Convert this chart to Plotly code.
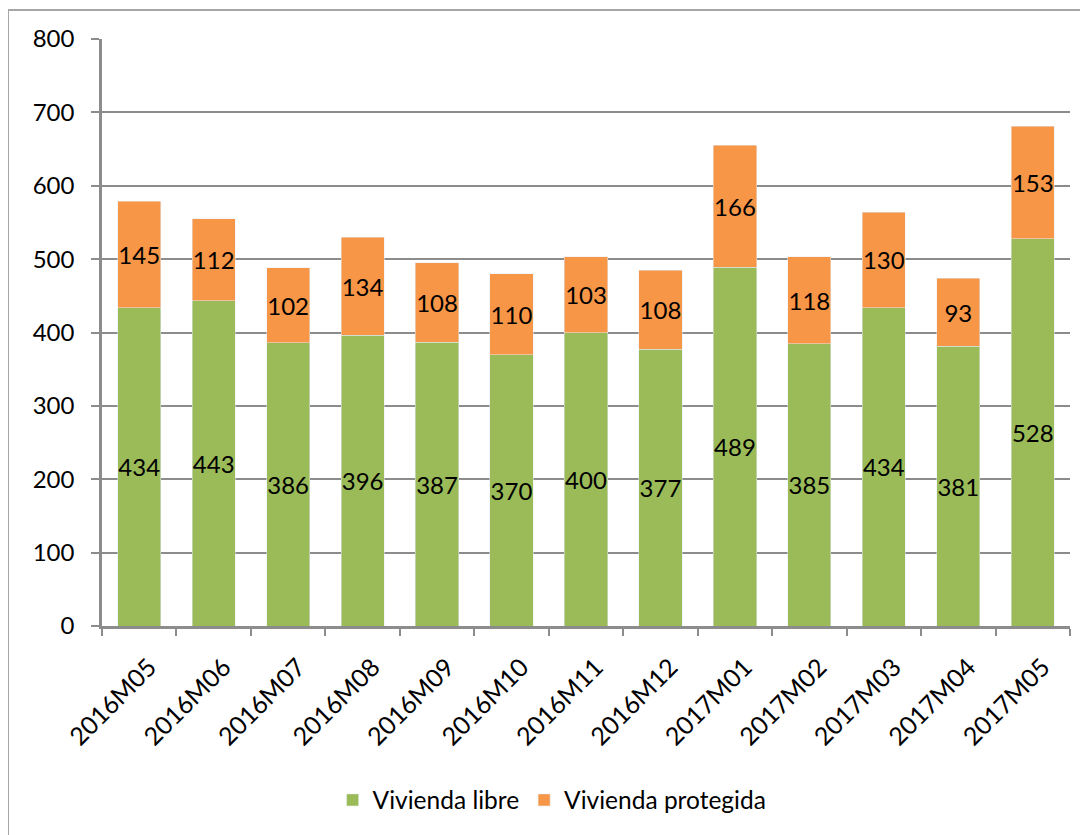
import plotly.graph_objects as go

months = ["2016M05", "2016M06", "2016M07", "2016M08", "2016M09", "2016M10", "2016M11",
          "2016M12", "2017M01", "2017M02", "2017M03", "2017M04", "2017M05"]
libre = [434, 443, 386, 396, 387, 370, 400, 377, 489, 385, 434, 381, 528]
protegida = [145, 112, 102, 134, 108, 110, 103, 108, 166, 118, 130, 93, 153]
y_ticks = [0, 100, 200, 300, 400, 500, 600, 700, 800]

FONT = "Lato"
GREEN = "#9BBB59"
ORANGE = "#F79646"
GRID = "#8C8C8C"

# page has an 8px body margin; compensate so the plot area sits at x 102..1070, y 39..626
W, H = 1080, 827
ML, MR, MT, MB = 94, 18, 31, 209
PW = W - ML - MR
PH = H - MT - MB

fig = go.Figure()
fig.add_trace(go.Bar(
    x=months, y=libre, name="Vivienda libre", marker_color=GREEN,
    text=[str(v) for v in libre], textposition="inside", insidetextanchor="middle",
    textangle=0, constraintext="none",
    textfont=dict(family=FONT, size=24, color="black"),
))
fig.add_trace(go.Bar(
    x=months, y=protegida, name="Vivienda protegida", marker_color=ORANGE,
    text=[str(v) for v in protegida], textposition="inside", insidetextanchor="middle",
    textangle=0, constraintext="none",
    textfont=dict(family=FONT, size=24, color="black"),
))

fig.update_layout(
    barmode="stack",
    bargap=0.42,
    width=W, height=H,
    margin=dict(l=ML, r=MR, t=MT, b=MB, autoexpand=False),
    paper_bgcolor="white", plot_bgcolor="white",
    font=dict(family=FONT, size=24, color="black"),
    showlegend=True,
    legend=dict(orientation="h", x=0.465, xanchor="center", y=-174 / PH, yanchor="middle",
                font=dict(family=FONT, size=24.5, color="black"), itemwidth=30,
                traceorder="normal"),
    uniformtext=dict(mode=False),
)
fig.update_yaxes(
    range=[0, 800], tickvals=y_ticks, ticktext=[str(v) for v in y_ticks],
    showgrid=True, gridcolor=GRID, gridwidth=1.5,
    showline=True, linecolor=GRID, linewidth=2.5,
    ticks="outside", ticklen=8, tickcolor=GRID, tickwidth=2,
    tickfont=dict(family=FONT, size=24, color="black"), ticklabelstandoff=12,
    zeroline=False, automargin=False,
)
fig.update_xaxes(
    type="category", tickangle=-45,
    showline=True, linecolor=GRID, linewidth=2.5,
    ticks="outside", ticklen=7, tickcolor=GRID, tickwidth=2, tickson="boundaries",
    tickfont=dict(family=FONT, size=25, color="black"), ticklabelstandoff=14,
    ticklabelshift=10,
    showgrid=False, automargin=False,
)
# outer chart frame
fig.add_shape(type="rect", xref="paper", yref="paper",
              x0=(0 - ML) / PW, x1=(1095 - ML) / PW,
              y0=(PH - 900) / PH, y1=(PH + 29) / PH,
              line=dict(color="#A6A6A6", width=2), fillcolor="rgba(0,0,0,0)", layer="below")

fig.write_html("out.html")
